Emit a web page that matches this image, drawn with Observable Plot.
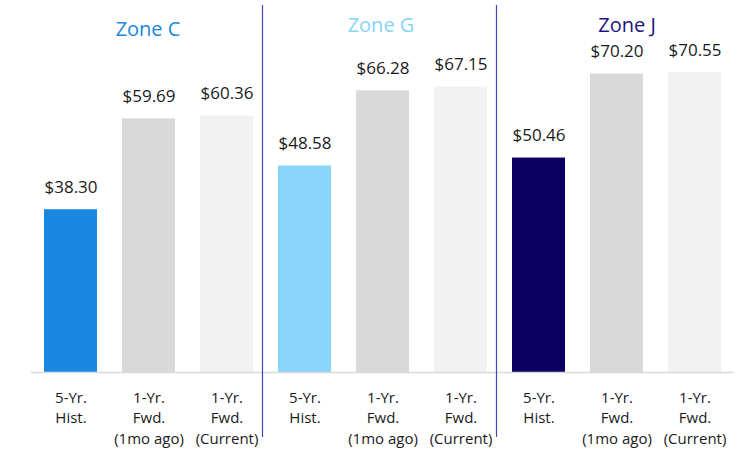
<!DOCTYPE html>
<html>
<head>
<meta charset="utf-8">
<script src="https://cdn.jsdelivr.net/npm/d3@7"></script>
<script src="https://cdn.jsdelivr.net/npm/@observablehq/plot@0.6"></script>
<style>
  html, body { margin: 0; padding: 0; background: #fff; }
  #chart svg { display: block; }
</style>
</head>
<body>
<div id="chart"></div>
<script>
const zones = ["Zone C", "Zone G", "Zone J"];
const zoneColors = ["#1a88e0", "#87d5f8", "#0b0062"];
const titleColors = ["#1a88e0", "#87d5f8", "#1c1480"];
const categories = ["5-Yr. Hist.", "1-Yr. Fwd. (1mo ago)", "1-Yr. Fwd. (Current)"];
const tickLabels = ["5-Yr.\nHist.", "1-Yr.\nFwd.\n(1mo ago)", "1-Yr.\nFwd.\n(Current)"];
const valuesC = [38.30, 59.69, 60.36];
const valuesG = [48.58, 66.28, 67.15];
const valuesJ = [50.46, 70.20, 70.55];
const grayColors = ["#d9d9d9", "#f2f2f2"];

const seriesValues = [valuesC, valuesG, valuesJ];
const data = [];
zones.forEach((z, zi) => {
  categories.forEach((c, ci) => {
    data.push({
      key: z + "|" + c,
      zone: z,
      cat: c,
      ci,
      value: seriesValues[zi][ci],
      fill: ci === 0 ? zoneColors[zi] : grayColors[ci - 1]
    });
  });
});
const keys = data.map(d => d.key);
const tickMap = new Map(data.map(d => [d.key, tickLabels[d.ci]]));

const titleData = zones.map((z, zi) => ({key: z + "|" + categories[1], zone: z, color: titleColors[zi]}));
const sepData = zones.slice(1).map(z => ({key: z + "|" + categories[0]}));

const font = "'Open Sans', 'Noto Sans', sans-serif";

const chart = Plot.plot({
  width: 738,
  height: 450,
  marginTop: 5,
  marginBottom: 78,
  marginLeft: 31,
  marginRight: 4,
  style: {fontFamily: font, background: "#fff"},
  x: {domain: keys, paddingInner: 0.32, paddingOuter: 0.16, axis: null, label: null},
  y: {domain: [0, 86.35], axis: null},
  marks: [
    Plot.barY(data, {x: "key", y: "value", fill: "fill"}),
    Plot.ruleY([0], {stroke: "#d9d9d9", strokeWidth: 1.6}),
    Plot.ruleX(sepData, {x: "key", dx: -42.5, stroke: "#4646b8", strokeWidth: 1.2, insetBottom: -65}),
    Plot.text(data, {
      x: "key", y: "value", text: d => "$" + d.value.toFixed(2),
      lineAnchor: "middle", dy: -22.5, fontSize: 17, fill: "#1a1a1a"
    }),
    Plot.text(titleData.slice(0, 1), {x: "key", frameAnchor: "top", text: "zone", lineAnchor: "middle", dy: 24.5, dx: -1, fontSize: 20, fill: "color"}),
    Plot.text(titleData.slice(1, 2), {x: "key", frameAnchor: "top", text: "zone", lineAnchor: "middle", dy: 20.5, dx: -2, fontSize: 20, fill: "color"}),
    Plot.text(titleData.slice(2, 3), {x: "key", frameAnchor: "top", text: "zone", lineAnchor: "middle", dy: 20, dx: 10, fontSize: 20, fill: "color"}),
    Plot.axisX({
      domain: keys, tickSize: 0, tickPadding: 15.5, fontSize: 15, lineHeight: 1.37, label: null,
      tickFormat: k => tickMap.get(k), fill: "#1a1a1a", textStroke: "none"
    })
  ]
});
document.getElementById("chart").appendChild(chart);
</script>
</body>
</html>
